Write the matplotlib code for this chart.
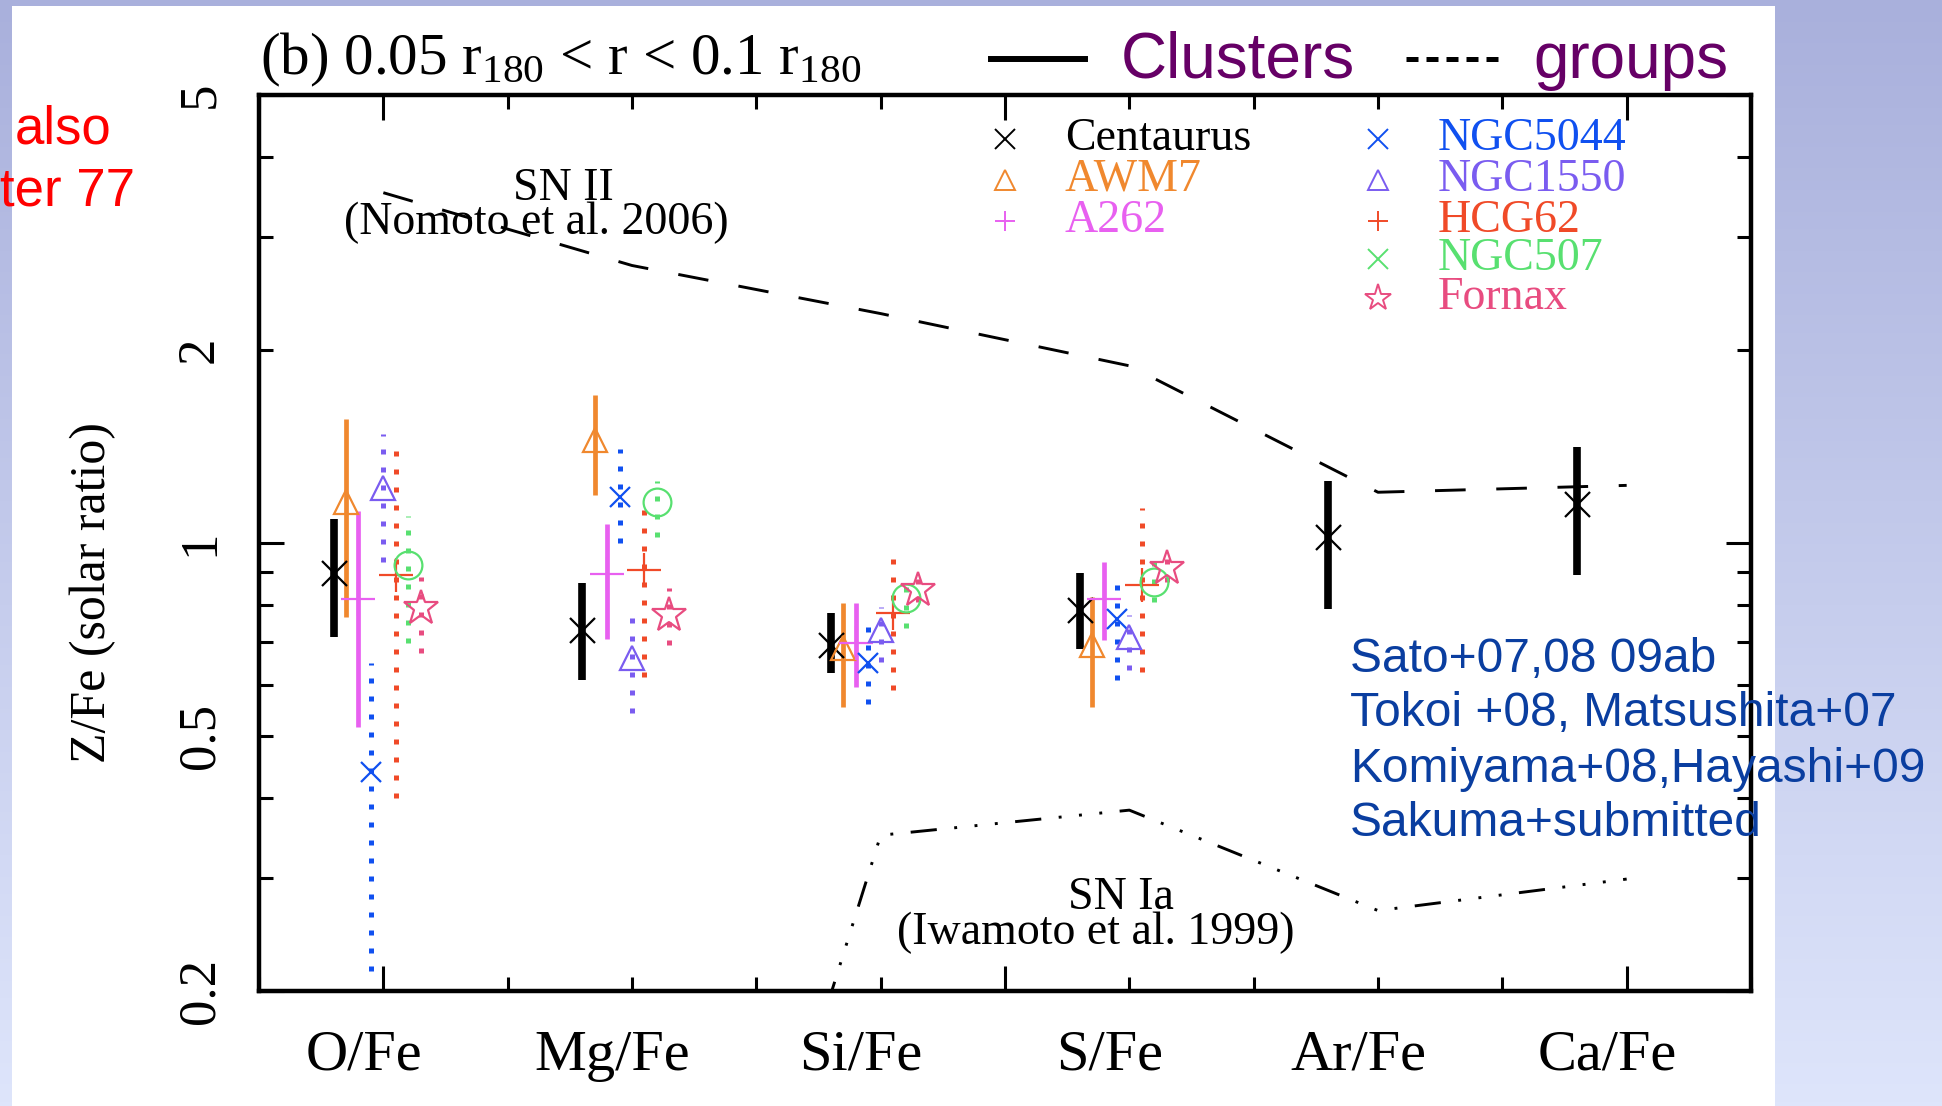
import numpy as np
import matplotlib
matplotlib.use("Agg")
import matplotlib.pyplot as plt
from matplotlib.lines import Line2D
from matplotlib.patches import Rectangle
from matplotlib.colors import LinearSegmentedColormap
from matplotlib.ticker import FixedLocator, MultipleLocator, NullFormatter
from matplotlib.transforms import blended_transform_factory

plt.rcParams['font.family'] = 'Liberation Serif'
plt.rcParams['mathtext.fontset'] = 'custom'
plt.rcParams['mathtext.rm'] = 'Liberation Serif'
plt.rcParams['mathtext.it'] = 'Liberation Serif:italic'

W, H = 1942, 1106

ratios = ["O/Fe", "Mg/Fe", "Si/Fe", "S/Fe", "Ar/Fe", "Ca/Fe"]
ratio_pos = [2, 4, 6, 8, 10, 12]

ytick_vals = [0.2, 0.5, 1, 2, 5]
ytick_labels = ["0.2", "0.5", "1", "2", "5"]

# supernova yield models
sn2_nomoto = [3.52, 2.71, 2.28, 1.89, 1.20, 1.23]
sn1a_iwamoto = [0.035, 0.0203, 0.350, 0.383, 0.267, 0.299]

# clusters
centaurus = [0.898, 0.732, 0.693, 0.786, 1.02, 1.15]
centaurus_lo = [0.713, 0.611, 0.626, 0.683, 0.79, 0.89]
centaurus_hi = [1.09, 0.865, 0.777, 0.897, 1.25, 1.41]

awm7 = [1.16, 1.45, 0.685, 0.693]
awm7_lo = [0.767, 1.19, 0.555, 0.555]
awm7_hi = [1.56, 1.70, 0.806, 0.824]

a262 = [0.818, 0.894, 0.697, 0.817]
a262_lo = [0.517, 0.708, 0.597, 0.706]
a262_hi = [1.12, 1.07, 0.806, 0.935]

# groups
ngc5044 = [0.44, 1.18, 0.649, 0.760]
ngc5044_lo = [0.215, 1.0, 0.561, 0.611]
ngc5044_hi = [0.65, 1.40, 0.767, 0.891]

ngc1550 = [1.22, 0.661, 0.732, 0.714]
ngc1550_lo = [0.935, 0.543, 0.653, 0.634]
ngc1550_hi = [1.48, 0.763, 0.796, 0.772]

hcg62 = [0.891, 0.908, 0.779, 0.86]
hcg62_lo = [0.40, 0.619, 0.59, 0.63]
hcg62_hi = [1.43, 1.15, 0.99, 1.135]

ngc507 = [0.924, 1.16, 0.82, 0.87]
ngc507_lo = [0.697, 1.02, 0.736, 0.81]
ngc507_hi = [1.10, 1.25, 0.891, 0.97]

fornax = [0.791, 0.772, 0.845, 0.913]
fornax_lo = [0.673, 0.693, 0.81, 0.87]
fornax_hi = [0.886, 0.85, 0.88, 0.95]

refs = ["Sato+07,08 09ab", "Tokoi +08, Matsushita+07",
        "Komiyama+08,Hayashi+09", "Sakuma+submitted"]

# name, values, lo, hi, x offset, color, plot marker, key marker, size, cluster?
objects = [
    ("Centaurus", centaurus, centaurus_lo, centaurus_hi, -0.4, "black", "x", "x", 18, True),
    ("AWM7", awm7, awm7_lo, awm7_hi, -0.3, "#F0882E", "^", "^", 17, True),
    ("A262", a262, a262_lo, a262_hi, -0.2, "#E860F0", "+", "+", 24, True),
    ("NGC5044", ngc5044, ngc5044_lo, ngc5044_hi, -0.1, "#1050F0", "x", "x", 15, False),
    ("NGC1550", ngc1550, ngc1550_lo, ngc1550_hi, 0.0, "#7A5CF0", "^", "^", 17, False),
    ("HCG62", hcg62, hcg62_lo, hcg62_hi, 0.1, "#F04A28", "+", "+", 24, False),
    ("NGC507", ngc507, ngc507_lo, ngc507_hi, 0.2, "#58E070", "o", "x", 20, False),
    ("Fornax", fornax, fornax_lo, fornax_hi, 0.3, "#E84C80", "*", "*", 26, False),
]


def fx(px):
    return px / W


def fy(py):
    return 1 - py / H


fig = plt.figure(figsize=(W / 100, H / 100), dpi=100)

# slide background
bg = fig.add_axes([0, 0, 1, 1], zorder=-10)
cmap = LinearSegmentedColormap.from_list("slide", ["#A9B0DC", "#DEE5FB"])
bg.imshow(np.linspace(0, 1, 256).reshape(-1, 1), aspect="auto", cmap=cmap,
          extent=(0, 1, 0, 1), origin="upper")
bg.add_patch(Rectangle((fx(12), 0), fx(1775 - 12), 1 - 6 / H,
                       transform=bg.transAxes, facecolor="white", edgecolor="none"))
bg.set_xlim(0, 1)
bg.set_ylim(0, 1)
bg.axis("off")

ax = fig.add_axes([fx(259), 1 - 991 / H, fx(1751 - 259), 896 / H])
ax.set_yscale("log")
ax.set_xlim(1, 13)
ax.set_ylim(0.2, 5)

xy_axes = blended_transform_factory(ax.transData, ax.transAxes)
yx_axes = blended_transform_factory(ax.transAxes, ax.transData)

# model curves
dashed = (0, (10.5, 10.5))
dash_dot3 = (0, (9, 6, 1, 6, 1, 6, 1, 6))
ax.plot(ratio_pos, sn2_nomoto, color="black", lw=2.1, linestyle=dashed, zorder=2)
ax.plot(ratio_pos, sn1a_iwamoto, color="black", lw=2.1, linestyle=dash_dot3, zorder=2)

# measurements
for name, val, lo, hi, off, col, mk, lmk, ms, cluster in objects:
    x = np.array(ratio_pos[:len(val)]) + off
    if name == "Centaurus":
        lw, ls = 5.5, "solid"
    elif cluster:
        lw, ls = 3.4, "solid"
    else:
        lw, ls = 3.6, (0, (1, 2.6))
    ax.vlines(x, lo, hi, colors=col, linewidth=lw, linestyles=ls, zorder=3)
    ax.plot(x, val, ls="none", marker=mk, ms=ms, mew=1.6, mec=col,
            mfc="none", color=col, zorder=4)

# key
key_cols = [(7.0, 7.48), (10.0, 10.48)]
key_rows = [0.951, 0.9055, 0.8597, 0.8173, 0.7738]
i1 = i2 = 0
for name, val, lo, hi, off, col, mk, lmk, ms, cluster in objects:
    if cluster:
        mx, tx = key_cols[0]
        ry = key_rows[i1]
        i1 += 1
    else:
        mx, tx = key_cols[1]
        ry = key_rows[i2]
        i2 += 1
    kms = 14 if lmk != "*" else 20
    ax.plot([mx], [ry], transform=xy_axes, ls="none", marker=lmk, ms=kms,
            mew=1.4, mec=col, mfc="none", clip_on=False)
    ax.text(tx, ry, name, transform=xy_axes, color=col, fontsize=33,
            ha="left", va="center")

ax.text(3.45, 0.8956, "SN II", transform=xy_axes, fontsize=33, ha="center", va="center")
ax.text(3.23, 0.8576, "(Nomoto et al. 2006)", transform=xy_axes, fontsize=33,
        ha="center", va="center")
ax.text(7.935, 0.104, "SN Ia", transform=xy_axes, fontsize=33, ha="center", va="center")
ax.text(7.726, 0.0652, "(Iwamoto et al. 1999)", transform=xy_axes, fontsize=33,
        ha="center", va="center")

# ticks
ax.xaxis.set_major_locator(FixedLocator([2, 7, 12]))
ax.xaxis.set_minor_locator(MultipleLocator(1))
ax.yaxis.set_major_locator(FixedLocator([0.2, 1, 5]))
ax.yaxis.set_minor_locator(FixedLocator([0.3, 0.4, 0.5, 0.6, 0.7, 0.8, 0.9, 2, 3, 4]))
for axis in (ax.xaxis, ax.yaxis):
    axis.set_major_formatter(NullFormatter())
    axis.set_minor_formatter(NullFormatter())
ax.tick_params(which="both", direction="in", top=True, right=True, width=2.2)
ax.tick_params(which="major", length=18)
ax.tick_params(which="minor", length=10)
for s in ax.spines.values():
    s.set_linewidth(3.2)

for p, lab in zip(ratio_pos, ratios):
    ax.text(p - 0.16, -0.043, lab, transform=xy_axes, fontsize=42,
            ha="center", va="top")
for v, lab in zip(ytick_vals, ytick_labels):
    ax.text(-0.0395, v, lab, transform=yx_axes, fontsize=38, rotation=90,
            ha="center", va="center")
ax.text(-0.111, 0.445, "Z/Fe (solar ratio)", transform=ax.transAxes, fontsize=36,
        rotation=90, ha="center", va="center")

# header
fig.text(fx(260), fy(74), r"(b) 0.05 r$_{180}$ < r < 0.1 r$_{180}$", fontsize=42.5,
         ha="left", va="baseline")
purple = "#660066"
fig.add_artist(Line2D([fx(991), fx(1085)], [fy(59), fy(59)], color="black", lw=4.3,
                      transform=fig.transFigure))
fig.add_artist(Line2D([fx(1406), fx(1501)], [fy(59), fy(59)], color="black", lw=3.6,
                      linestyle=(0, (2.4, 1.6)), transform=fig.transFigure))
fig.text(fx(1121), fy(78), "Clusters", color=purple, fontsize=46,
         family="Liberation Sans", ha="left", va="baseline")
fig.text(fx(1533), fy(78), "groups", color=purple, fontsize=46,
         family="Liberation Sans", ha="left", va="baseline")

for k, line in enumerate(refs):
    fig.text(fx(1350), fy(659 + 55 * k), line, color="#0A3EA0", fontsize=34.5,
             family="Liberation Sans", ha="left", va="center", zorder=5)

fig.text(fx(15), fy(130), "also", color="red", fontsize=38,
         family="Liberation Sans", ha="left", va="center")
fig.text(fx(0), fy(192), "ter 77", color="red", fontsize=38,
         family="Liberation Sans", ha="left", va="center")

fig.savefig("out.png", dpi=100)
